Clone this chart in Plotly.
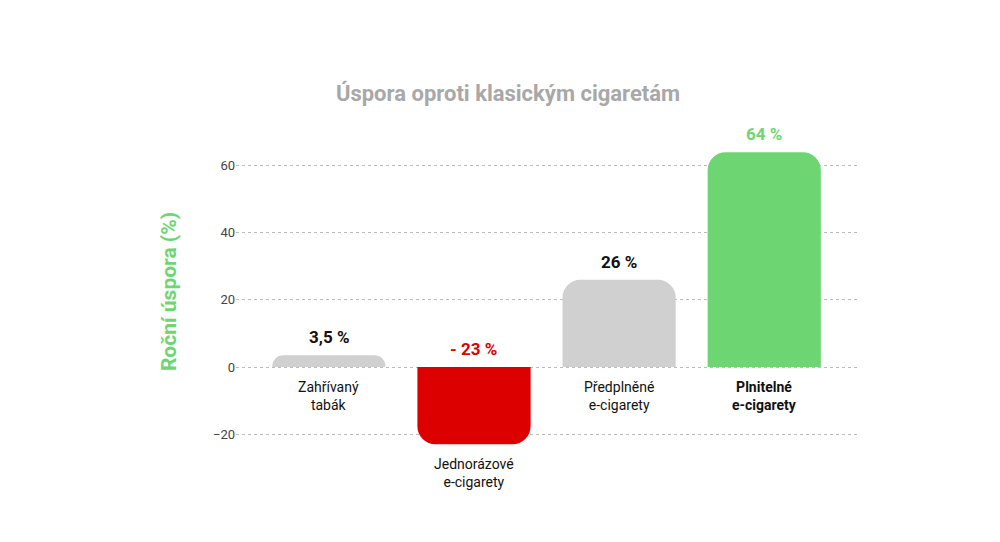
import plotly.graph_objects as go

categories = ["Zahřívaný<br>tabák", "Jednorázové<br>e-cigarety", "Předplněné<br>e-cigarety", "<b>Plnitelné<br>e-cigarety</b>"]
values = [3.5, -23, 26, 64]
value_labels = ["3,5 %", "- 23 %", "26 %", "64 %"]
bar_colors = ["#d0d0d0", "#dd0000", "#d0d0d0", "#6dd672"]
label_colors = ["#111111", "#dd0000", "#111111", "#6dd672"]
yticks = [-20, 0, 20, 40, 60]

x = list(range(len(values)))

fig = go.Figure()
fig.add_trace(go.Bar(
    x=x, y=values, width=0.78,
    marker=dict(color=bar_colors, cornerradius=18, line=dict(width=0)),
    hoverinfo="none"
))

for i, v in enumerate(values):
    # value label above bar (or above zero line for negative bar)
    fig.add_annotation(x=i, y=max(v, 0), text="<b>%s</b>" % value_labels[i],
                       showarrow=False, yshift=18,
                       font=dict(family="Roboto", size=17, color=label_colors[i]))
    # category label under zero line (or under negative bar)
    fig.add_annotation(x=i, y=min(v, 0), text=categories[i], showarrow=False,
                       yanchor="top", yshift=-10,
                       font=dict(family="Roboto", size=14, color="#111111"))

fig.update_layout(
    width=1000, height=542,
    paper_bgcolor="white", plot_bgcolor="white",
    margin=dict(l=228, r=148, t=124, b=99),
    showlegend=False,
    title=dict(text="<b>Úspora oproti klasickým cigaretám</b>", x=0.5, xanchor="center",
               y=0.843, yanchor="middle",
               font=dict(family="Roboto", size=22, color="#a8a8a8")),
    xaxis=dict(range=[-0.64, 3.66], showticklabels=False, showgrid=False,
               zeroline=False, showline=False),
    yaxis=dict(range=[-25, 70], tickvals=yticks, showgrid=True,
               gridcolor="#bbbbbb", griddash="dot", gridwidth=1,
               zeroline=False, showline=False, ticks="", ticklen=0,
               tickfont=dict(family="Roboto", size=13, color="#444444"),
               title=dict(text="<b>Roční úspora (%)</b>", standoff=30,
                          font=dict(family="Roboto", size=21, color="#6dd672"))),
)

fig.write_html("out.html")
